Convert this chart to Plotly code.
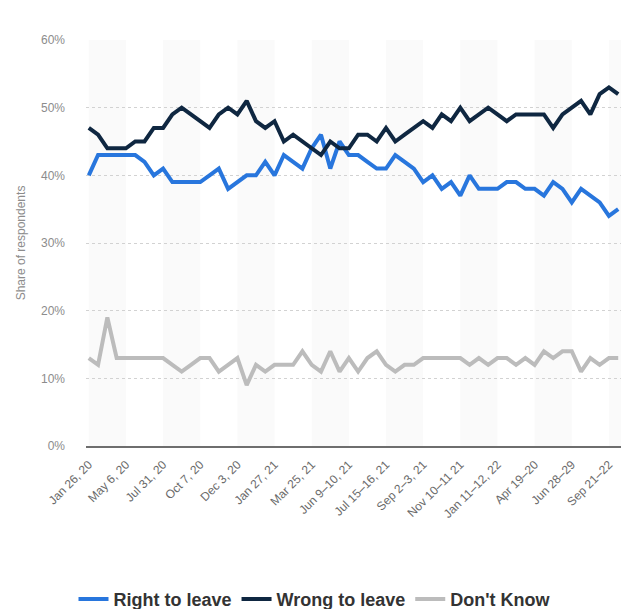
import plotly.graph_objects as go

# ---- data ----
tick_labels = ["Jan 26, 20", "May 6, 20", "Jul 31, 20", "Oct 7, 20", "Dec 3, 20",
               "Jan 27, 21", "Mar 25, 21", "Jun 9–10, 21", "Jul 15–16, 21", "Sep 2–3, 21",
               "Nov 10–11 21", "Jan 11–12, 22", "Apr 19–20", "Jun 28–29", "Sep 21–22"]
label_every = 4

right_to_leave = [40, 43, 43, 43, 43, 43, 42, 40, 41, 39,
                  39, 39, 39, 40, 41, 38, 39, 40, 40, 42,
                  40, 43, 42, 41, 44, 46, 41, 45, 43, 43,
                  42, 41, 41, 43, 42, 41, 39, 40, 38, 39,
                  37, 40, 38, 38, 38, 39, 39, 38, 38, 37,
                  39, 38, 36, 38, 37, 36, 34, 35]
wrong_to_leave = [47, 46, 44, 44, 44, 45, 45, 47, 47, 49,
                  50, 49, 48, 47, 49, 50, 49, 51, 48, 47,
                  48, 45, 46, 45, 44, 43, 45, 44, 44, 46,
                  46, 45, 47, 45, 46, 47, 48, 47, 49, 48,
                  50, 48, 49, 50, 49, 48, 49, 49, 49, 49,
                  47, 49, 50, 51, 49, 52, 53, 52]
dont_know = [13, 12, 19, 13, 13, 13, 13, 13, 13, 12,
             11, 12, 13, 13, 11, 12, 13, 9, 12, 11,
             12, 12, 12, 14, 12, 11, 14, 11, 13, 11,
             13, 14, 12, 11, 12, 12, 13, 13, 13, 13,
             13, 12, 13, 12, 13, 13, 12, 13, 12, 14,
             13, 14, 14, 11, 13, 12, 13, 13]

series_names = ["Right to leave", "Wrong to leave", "Don't Know"]
series_colors = ["#2876dd", "#0f2741", "#bcbcbc"]

n = len(right_to_leave)
survey_index = list(range(n))
tick_pos = [i * label_every for i in range(len(tick_labels))]
x_min, x_max = -0.3, n - 1 + 0.3

fig = go.Figure()
for name, vals, col in zip(series_names, [right_to_leave, wrong_to_leave, dont_know], series_colors):
    fig.add_trace(go.Scatter(
        x=survey_index, y=vals, name=name, mode="lines",
        line=dict(color=col, width=4, shape="linear"),
        hoverinfo="skip",
    ))

# alternating bands between tick positions
edges = tick_pos + [x_max]
shapes = []
for k in range(0, len(edges) - 1, 2):
    shapes.append(dict(type="rect", xref="x", yref="paper",
                       x0=edges[k], x1=edges[k + 1], y0=0, y1=1,
                       fillcolor="#fafafa", line=dict(width=0), layer="below"))

fig.update_layout(
    width=629, height=609,
    margin=dict(l=86, r=8, t=40, b=163),
    paper_bgcolor="white", plot_bgcolor="white",
    font=dict(family="Liberation Sans, Arial, sans-serif", color="#666666"),
    shapes=shapes,
    showlegend=True,
    legend=dict(orientation="h", xref="container", yref="container",
                x=0.5, xanchor="center", y=0.016, yanchor="middle",
                font=dict(size=18, color="#333333", family="Liberation Sans, Arial, sans-serif", weight="bold"),
                itemwidth=30, tracegroupgap=0, traceorder="normal"),
)
fig.update_xaxes(
    range=[x_min, x_max], tickmode="array", tickvals=tick_pos, ticktext=tick_labels,
    tickangle=-45, tickfont=dict(size=12, color="#6a6a6a"),
    showgrid=False, zeroline=False, showline=True, linecolor="#6e6e6e", linewidth=2,
    ticks="", automargin=False, ticklabelstandoff=5,
)
fig.update_yaxes(
    range=[0, 60], tickmode="linear", tick0=0, dtick=10,
    ticksuffix="%", tickfont=dict(size=12, color="#8c8c8c"),
    showgrid=True, gridcolor="#d2d2d2", griddash="dot", gridwidth=1,
    zeroline=False, showline=False, ticks="", ticklabelstandoff=20, automargin=False,
    title=dict(text="Share of respondents", font=dict(size=12, color="#8c8c8c"), standoff=12),
)

fig.write_html("out.html", config={"displayModeBar": False},
               post_script="document.body.style.margin='0';document.body.style.overflow='hidden';")
